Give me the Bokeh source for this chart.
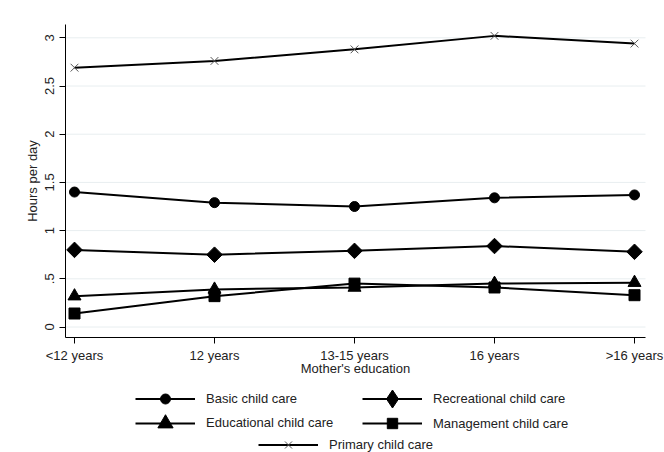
from bokeh.plotting import figure
from bokeh.models import Range1d, FixedTicker, Legend, LegendItem
from bokeh.embed import file_html
from bokeh.resources import INLINE

categories = ["<12 years", "12 years", "13-15 years", "16 years", ">16 years"]
basic = [1.40, 1.29, 1.25, 1.34, 1.37]
recreational = [0.80, 0.75, 0.79, 0.84, 0.78]
educational = [0.32, 0.39, 0.41, 0.45, 0.46]
management = [0.14, 0.32, 0.45, 0.41, 0.33]
primary = [2.69, 2.76, 2.88, 3.02, 2.94]
y_ticks = [0, 0.5, 1, 1.5, 2, 2.5, 3]
y_tick_labels = ["0", ".5", "1", "1.5", "2", "2.5", "3"]

FONT = "Liberation Sans"
FS = "13px"
xs = list(range(len(categories)))

# plot region limits (data units) and where the axes sit
X_LO, X_HI = -0.0643, 4.0786
Y_AXIS, Y_TOP = -0.104, 3.138
PX_X, PX_Y = 140.0, 96.4  # pixels per data unit

W, H = 664, 452
x0_px, y0_px = 74, 326.5  # pixel position of data origin
p = figure(width=W, height=H, output_backend="svg", toolbar_location=None,
           x_range=Range1d(-x0_px / PX_X, (W - x0_px) / PX_X),
           y_range=Range1d(-(H - y0_px) / PX_Y, y0_px / PX_Y),
           min_border_left=0, min_border_right=0, min_border_top=0,
           min_border_bottom=0)
p.outline_line_color = None
p.background_fill_color = "white"
p.border_fill_color = "white"

p.xgrid.visible = False
p.ygrid.visible = False
p.segment(x0=[X_LO] * len(y_ticks), x1=[X_HI] * len(y_ticks), y0=y_ticks, y1=y_ticks,
          line_color="#e8eef0", line_width=1)

p.xaxis.ticker = FixedTicker(ticks=xs)
p.xaxis.major_label_overrides = {i: c for i, c in enumerate(categories)}
p.xaxis.fixed_location = Y_AXIS
p.xaxis.bounds = (X_LO, X_HI)
p.yaxis.ticker = FixedTicker(ticks=y_ticks)
p.yaxis.major_label_overrides = {t: l for t, l in zip(y_ticks, y_tick_labels)}
p.yaxis.major_label_orientation = "vertical"
p.yaxis.fixed_location = X_LO
p.yaxis.bounds = (Y_AXIS, Y_TOP)
p.xaxis.axis_label = "Mother's education"
p.yaxis.axis_label = "Hours per day"
for ax in (p.xaxis, p.yaxis):
    ax.minor_tick_line_color = None
    ax.axis_line_color = "black"
    ax.major_tick_line_color = "black"
    ax.major_tick_out = 6
    ax.major_tick_in = 0
    ax.major_label_text_font = FONT
    ax.major_label_text_font_size = FS
    ax.major_label_text_color = "#222222"
    ax.axis_label_text_font = FONT
    ax.axis_label_text_font_size = FS
    ax.axis_label_text_font_style = "normal"
    ax.axis_label_text_color = "#222222"
p.xaxis.major_label_standoff = 5
p.xaxis.axis_label_standoff = -6
p.yaxis.major_label_standoff = 5
p.yaxis.axis_label_standoff = 3

NAN = float("nan")
LW = 2
r_basic_l = p.line(xs, basic, line_color="black", line_width=LW)
r_basic_m = p.scatter(xs, basic, marker="circle", size=10, color="black")
r_rec_l = p.line(xs, recreational, line_color="black", line_width=LW)
r_rec_m = p.scatter(xs, recreational, marker="square", angle=0.785398, size=11, color="black")
r_rec_leg = p.scatter(x=[NAN], y=[NAN], marker="diamond", size=18, color="black")
r_edu_l = p.line(xs, educational, line_color="black", line_width=LW)
r_edu_m = p.scatter(xs, educational, marker="triangle", size=13, color="black")
r_man_l = p.line(xs, management, line_color="black", line_width=LW)
r_man_m = p.scatter(xs, management, marker="square", size=11, color="black")
r_pri_l = p.line(xs, primary, line_color="black", line_width=LW)
r_pri_m = p.scatter(xs, primary, marker="x", size=11, line_color="#555555", line_width=1)

def add_legend(label, renderers, x, row_center, marker_size):
    gh = marker_size / 0.4
    lg = Legend(items=[LegendItem(label=label, renderers=renderers)],
                location=(x, H - row_center - gh / 2), orientation="vertical",
                glyph_width=60, glyph_height=int(round(gh)), spacing=0, padding=0, margin=0,
                label_standoff=11, label_text_font=FONT, label_text_font_size=FS,
                label_text_color="#222222", border_line_alpha=0,
                background_fill_alpha=0)
    p.add_layout(lg, "center")

add_legend("Basic child care", [r_basic_l, r_basic_m], 135, 398, 10)
add_legend("Educational child care", [r_edu_l, r_edu_m], 135, 423, 15)
add_legend("Recreational child care", [r_rec_l, r_rec_leg], 362, 398, 18)
add_legend("Management child care", [r_man_l, r_man_m], 362, 423, 10.5)
add_legend("Primary child care", [r_pri_l, r_pri_m], 258, 444, 10)

open("out.html", "w").write(file_html(p, INLINE))
